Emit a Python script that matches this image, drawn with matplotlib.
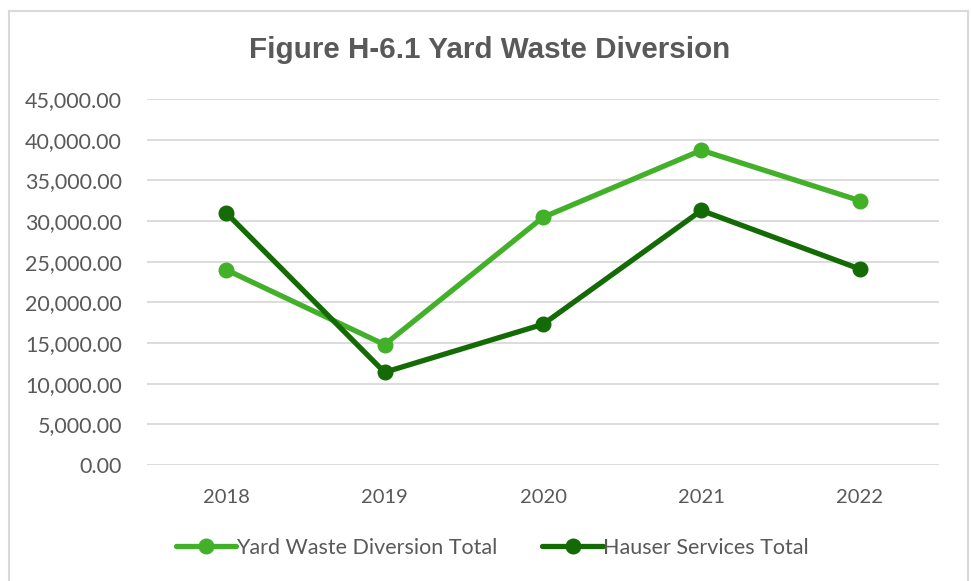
import matplotlib
matplotlib.use('Agg')
import matplotlib.pyplot as plt
from matplotlib.lines import Line2D
from matplotlib.ticker import FuncFormatter

# Data
years = ['2018', '2019', '2020', '2021', '2022']
yard_waste_total = [24000, 14800, 30450, 38700, 32500]
hauser_total = [31000, 11400, 17300, 31300, 24100]

LIGHT_GREEN = '#43b02a'
DARK_GREEN = '#146b05'
TEXT_GREY = '#595959'
GRID_GREY = '#d9d9d9'

plt.rcParams['font.family'] = ['Lato', 'DejaVu Sans']

fig = plt.figure(figsize=(9.71, 5.81), dpi=100)
ax = fig.add_axes([147 / 971, 1 - 465 / 581, (939 - 147) / 971, (465 - 99) / 581])

# Chart-area border (no bottom edge visible in the reference)
fig.add_artist(Line2D([8.5 / 971, 8.5 / 971], [0, 1 - 11 / 581], color=GRID_GREY, lw=1.5))
fig.add_artist(Line2D([968 / 971, 968 / 971], [0, 1 - 11 / 581], color=GRID_GREY, lw=1.5))
fig.add_artist(Line2D([8.5 / 971, 968 / 971], [1 - 11 / 581, 1 - 11 / 581], color=GRID_GREY, lw=1.5))

x = list(range(len(years)))
ax.plot(x, yard_waste_total, color=LIGHT_GREEN, lw=3.8, marker='o', ms=10.5,
        solid_capstyle='round', label='Yard Waste Diversion Total', zorder=3)
ax.plot(x, hauser_total, color=DARK_GREEN, lw=3.8, marker='o', ms=10.5,
        solid_capstyle='round', label='Hauser Services Total', zorder=3)

ax.set_xlim(-0.5, len(years) - 0.5)
ax.set_ylim(0, 45000)
ax.set_yticks(range(0, 45001, 5000))
ax.yaxis.set_major_formatter(FuncFormatter(lambda v, p: f'{v:,.2f}'))
ax.set_xticks(x)
ax.set_xticklabels(years)

ax.grid(True, axis='y', color=GRID_GREY, lw=1.3)
ax.set_axisbelow(True)
for s in ax.spines.values():
    s.set_visible(False)
ax.tick_params(axis='both', length=0, colors=TEXT_GREY)
ax.tick_params(axis='y', pad=18, labelsize=15.5)
ax.tick_params(axis='x', pad=17, labelsize=14.5)

fig.text(490 / 971, 1 - 50 / 581, 'Figure H-6.1 Yard Waste Diversion',
         ha='center', va='center', fontsize=21.3, fontweight='bold',
         color=TEXT_GREY, family=['Liberation Sans', 'DejaVu Sans'])

leg = fig.legend(loc='center', bbox_to_anchor=(492 / 971, 1 - 548 / 581), ncol=2,
                 frameon=False, fontsize=15.5, handlelength=2.8, handletextpad=0.0,
                 columnspacing=2.1, labelcolor=TEXT_GREY)

fig.savefig('out.png', dpi=100)
